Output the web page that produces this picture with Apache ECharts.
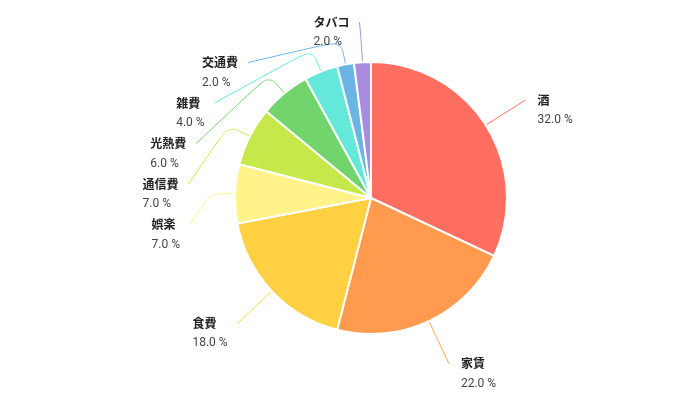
<!DOCTYPE html>
<html><head><meta charset="utf-8">
<script src="https://cdn.jsdelivr.net/npm/echarts@6/dist/echarts.min.js"></script>
<style>html,body{margin:0;padding:0;background:#fff}#c{width:700px;height:394px}</style>
</head><body><div id="c"></div>
<script>
const categories = ['酒','家賃','食費','娯楽','通信費','光熱費','雑費','交通費','タバコ'];
const values = [32.0, 22.0, 18.0, 7.0, 7.0, 6.0, 4.0, 2.0, 2.0];
const colors = ['#ff6e61','#ff9a4f','#ffd042','#fff38a','#c6e84b','#72d46c','#64e8da','#6ab5e6','#a98be0'];

const CX = 371, CY = 198, R = 136;
const LR = 183, LEN = 24, GAP_L = 10, GAP_R = 12, SPACING = 40.5, TOP = 22;

// label anchor layout (outside the pie, avoiding overlap)
const total = values.reduce((a, b) => a + b, 0);
let acc = 0;
const mids = values.map(v => { const m = (acc + v / 2) / total * 2 * Math.PI; acc += v; return m; });
const anchors = mids.map(a => ({ a, x: CX + LR * Math.sin(a), y: CY - LR * Math.cos(a), left: Math.sin(a) < 0 }));
function layoutSide(idx) {
  idx.sort((i, j) => anchors[i].y - anchors[j].y);
  let prev = -Infinity;
  idx.forEach(i => { const an = anchors[i]; an.ly = Math.max(an.y, TOP, prev + SPACING); prev = an.ly; });
  idx.forEach(i => {
    const an = anchors[i]; const dy = an.ly - CY;
    if (Math.abs(an.ly - an.y) > 8 && Math.abs(dy) < LR) an.lx = CX + (an.left ? -1 : 1) * Math.sqrt(LR * LR - dy * dy);
    else an.lx = an.x;
  });
}
layoutSide(anchors.map((_, i) => i).filter(i => anchors[i].left));
layoutSide(anchors.map((_, i) => i).filter(i => !anchors[i].left));

const chart = echarts.init(document.getElementById('c'));
chart.setOption({
  animation: false,
  series: [{
    type: 'pie',
    center: [CX, CY],
    radius: R,
    startAngle: 90,
    clockwise: true,
    data: categories.map((n, i) => ({ name: n, value: values[i], itemStyle: { color: colors[i] } })),
    itemStyle: { borderColor: '#fff', borderWidth: 2 },
    label: {
      formatter: p => '{n|' + p.name + '}\n{v|' + p.value.toFixed(1) + ' %}',
      rich: {
        n: { fontFamily: '"Noto Sans CJK JP", Roboto, sans-serif', fontWeight: 'bold', fontSize: 12, color: '#222', lineHeight: 20, align: 'left' },
        v: { fontFamily: 'Roboto, "Noto Sans CJK JP", sans-serif', fontSize: 12, color: '#444', lineHeight: 20, align: 'left' }
      }
    },
    labelLine: { show: true, length: LEN, length2: 10, smooth: true, lineStyle: { width: 1 } },
    labelLayout: p => {
      const an = anchors[p.dataIndex];
      const s = Math.sin(an.a), c = Math.cos(an.a);
      const p0 = [CX + R * s, CY - R * c];
      const p1 = [CX + (R + LEN) * s, CY - (R + LEN) * c];
      return {
        x: an.left ? an.lx - GAP_L : an.lx + GAP_R,
        y: an.ly - 10,
        align: an.left ? 'right' : 'left',
        verticalAlign: 'top',
        labelLinePoints: [p0, p1, [an.lx, an.ly]]
      };
    }
  }]
});
</script></body></html>
